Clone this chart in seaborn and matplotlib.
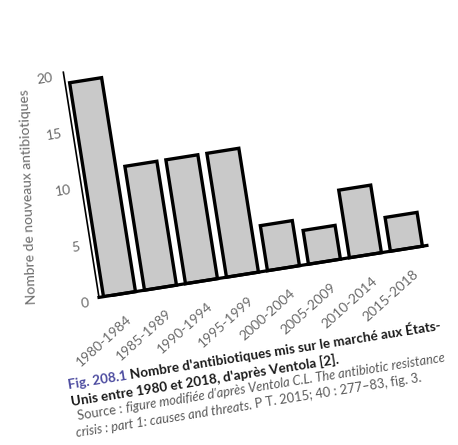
import matplotlib
matplotlib.use("Agg")
import matplotlib.pyplot as plt
import matplotlib.transforms as mtransforms
from matplotlib.axes import Axes
import seaborn as sns

periods = ["1980-1984", "1985-1989", "1990-1994", "1995-1999",
           "2000-2004", "2005-2009", "2010-2014", "2015-2018"]
counts = [19, 11, 11, 11, 4, 3, 6, 3]
y_ticks = [0, 5, 10, 15, 20]

W, H, DPI = 458, 445, 100
ORIGIN = (99.0, 147.6)      # pixel spot of the axes' lower-left corner
AX_W, AX_H = 332.0, 228.0   # axes size in pixels (before the tilt)
TILT = 9.0                  # the page is photographed slightly rotated


class TiltedAxes(Axes):
    """Plain Axes whose whole drawing is rotated around ORIGIN."""
    tilt = mtransforms.Affine2D().rotate_deg_around(ORIGIN[0], ORIGIN[1], TILT)

    def _set_lim_and_transforms(self):
        super()._set_lim_and_transforms()
        box = self.transAxes
        data = self.transScale + (self.transLimits + box)
        self._x_flat = mtransforms.blended_transform_factory(data, box)
        self._y_flat = mtransforms.blended_transform_factory(box, data)
        self.transData = data + self.tilt
        self._xaxis_transform = self._x_flat + self.tilt
        self._yaxis_transform = self._y_flat + self.tilt
        self.transAxes = box + self.tilt

    def get_xaxis_text1_transform(self, pad_points):
        shift = mtransforms.Affine2D().translate(6, -25)
        return self._x_flat + shift + self.tilt, "center", "right"

    def get_yaxis_text1_transform(self, pad_points):
        shift = mtransforms.Affine2D().translate(-11, -2.5)
        return self._y_flat + shift + self.tilt, "center_baseline", "right"


sns.set_theme(style="white")
plt.rcParams['font.family'] = ['Lato', 'DejaVu Sans']

fig = plt.figure(figsize=(W / DPI, H / DPI), dpi=DPI)
ax = fig.add_axes([ORIGIN[0] / W, ORIGIN[1] / H, AX_W / W, AX_H / H],
                  axes_class=TiltedAxes)
ax.patch.set_facecolor('none')

sns.barplot(x=periods, y=counts, ax=ax, color='#c9c9c9', saturation=1,
            edgecolor='black', linewidth=2.4, width=0.78)

ax.set_xlim(-0.5, 7.5)
ax.set_ylim(0, 20)
ax.set_yticks(y_ticks)
ax.set_xlabel('')
ax.set_ylabel('')
for side in ['top', 'right']:
    ax.spines[side].set_visible(False)
ax.spines['left'].set_linewidth(1.2)
ax.spines['bottom'].set_linewidth(2.3)
for side in ['left', 'bottom']:
    ax.spines[side].set_color('black')
ax.tick_params(length=0, labelsize=10, labelcolor='#6a6a6a')
ax.tick_params(axis='x', labelrotation=42)
ax.tick_params(axis='y', labelrotation=TILT)
for lbl in ax.get_xticklabels():
    lbl.set(rotation=42, rotation_mode='anchor', ha='right', va='center')
for lbl in ax.get_yticklabels():
    lbl.set(rotation=TILT, rotation_mode='anchor')

fig.text(28 / W, 1 - 197 / H, 'Nombre de nouveaux antibiotiques',
         rotation=92, ha='center', va='center', fontsize=10, color='#6a6a6a')

# caption, written piece by piece along the tilted baseline
bold_dark = dict(fontweight='bold', color='#1b1b1b')
fig_blue = dict(fontweight='bold', color='#4d4ca0')
src_up = dict(color='#5a5a5a')
src_it = dict(color='#5a5a5a', fontstyle='italic')

# (start u, baseline v in px of the tilted frame, pieces)
title_lines = [
    (-44, -86, [("Fig. 208.1", fig_blue),
                ("Nombre d'antibiotiques mis sur le marché aux États-", bold_dark)]),
    (-44, -103, [("Unis entre 1980 et 2018, d'après Ventola [2].", bold_dark)]),
]
source_lines = [
    (-39.5, -118, [("Source :", src_up),
                   ("figure modifiée d'après Ventola C.L. The antibiotic resistance", src_it)]),
    (-44, -134, [("crisis : part 1: causes and threats.", src_it),
                 ("P T. 2015; 40 : 277–83, fig. 3.", src_up)]),
]

renderer = fig.canvas.get_renderer()
GAP = 3.0


def write_line(u, v, pieces, size):
    x = u / AX_W
    made = []
    for text, style in pieces:
        t = ax.text(x, v / AX_H, text, transform=ax.transAxes, ha='left',
                    va='baseline', rotation=0, rotation_mode='anchor',
                    fontsize=size, clip_on=False, **style)
        w = t.get_window_extent(renderer).width
        x += (w + GAP) / AX_W
        made.append(t)
    return made, x * AX_W - GAP - u


def write_block(lines, target_width, size):
    # first pass measures the widest line, then redo at the fitting size
    made, width = write_line(*lines[0], size)
    for t in made:
        t.remove()
    size = size * target_width / width
    for u, v, pieces in lines:
        made, _ = write_line(u, v, pieces, size)
        for t in made:
            t.set_rotation(TILT)


write_block(title_lines, 377, 9.5)
write_block(source_lines, 372, 9.0)

fig.savefig('out.png', dpi=DPI, facecolor='white')
